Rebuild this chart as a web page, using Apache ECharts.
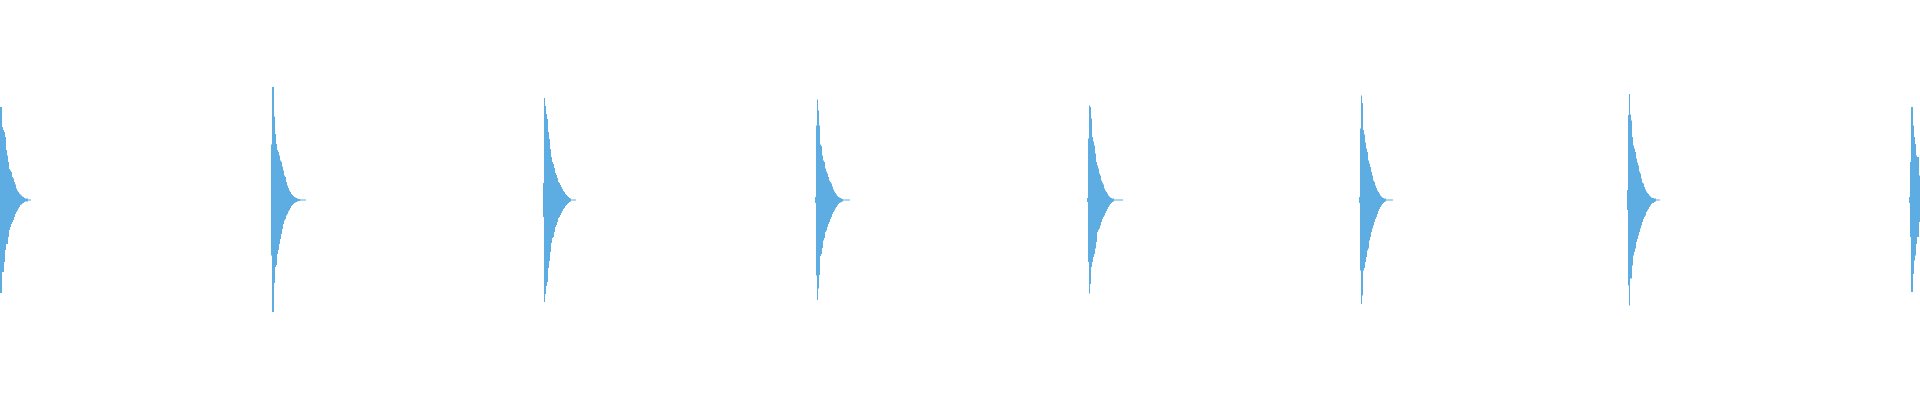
<!DOCTYPE html>
<html>
<head>
<meta charset="utf-8">
<script src="https://cdn.jsdelivr.net/npm/echarts@6/dist/echarts.min.js"></script>
<style>html,body{margin:0;padding:0;background:#fff}#chart{width:1920px;height:400px}</style>
</head>
<body>
<div id="chart"></div>
<script>
// Sample count across the chart (x axis = sample index)
const sampleCount = 1920;

// First sample index of each beat
const beatStarts = [0, 271, 543, 815, 1087, 1359, 1627, 1909];

// Upper envelope (positive amplitude) of each beat, read sample by sample
const beat1Upper = [93, 93, 73, 70, 68, 63, 50, 44.5, 38, 31, 29.5, 28, 23, 21.5, 18, 15.5, 11.5, 9.5, 8, 6.5, 5.5, 4.5, 3.5, 3, 2, 1.5, 1.5, 1.5, 0.5, 0.5, 0.5];
const beat1Lower = [93, 93, 72, 72, 62, 50, 44, 44, 37, 30, 27, 24, 22, 20, 17, 14, 12, 10.5, 8.5, 7, 5, 4.5, 3.5, 3, 2, 1.5, 1.5, 1.5, 0.5, 0.5, 0.5];

const beat2Upper = [55.5, 113, 113, 83.5, 66, 56, 50, 48, 44.5, 39.5, 38, 33.5, 29.5, 24.5, 23, 18, 14.5, 12, 9.5, 8, 6, 5, 4, 3, 2.5, 2, 1.5, 1, 1, 0.5, 0.5, 0.5, 0.5, 0.5, 0.5];
const beat2Lower = [55.5, 112, 112, 83, 67, 65, 54, 50, 44, 39, 34, 29, 24, 20.5, 19, 15.5, 14, 11.5, 10, 8, 6, 5, 4, 3, 2.5, 2, 1.5, 1, 1, 0.5, 0.5, 0.5, 0.5, 0.5, 0.5];

const beat3Upper = [17, 102, 94, 86, 81, 68, 61, 51, 43, 38, 36, 32, 27, 25, 22, 18, 17, 15, 13, 11, 9, 8, 6, 5, 4, 3, 2, 1.5, 0.5, 0.5, 0.5, 0.5, 0.5];
const beat3Lower = [17, 102, 94, 86, 82, 68, 61, 52, 43, 38, 37, 32, 27, 25, 22, 18, 17, 15, 13, 11, 9, 8, 6, 5, 4, 3, 2, 1.5, 0.5, 0.5, 0.5, 0.5, 0.5];

const beat4Upper = [3, 74.5, 100.5, 89.5, 74.5, 55.5, 54, 44.5, 39.5, 38, 31.5, 28.5, 26.5, 23, 19.5, 18, 16.5, 13.5, 10.5, 8.5, 7, 5.5, 4, 3, 2.5, 2, 1.5, 1, 0.5, 0.5, 0.5, 0.5, 0.5, 0.5, 0.5];
const beat4Lower = [3, 75.5, 100, 88.5, 75, 56, 54, 48, 40.5, 38, 32, 30.5, 27, 24, 22, 19, 17, 14, 12, 10.5, 8.5, 7, 5.5, 4, 3, 2.5, 2, 1.5, 0.5, 0.5, 0.5, 0.5, 0.5, 0.5, 0.5];

const beat5Upper = [2, 61.5, 94.5, 93, 81.5, 63, 58.5, 54.5, 46.5, 38, 34.5, 31.5, 26.5, 24.5, 19.5, 17.5, 15.5, 11.5, 9.5, 8, 6.5, 4.5, 3.5, 2.5, 2, 1.5, 1.5, 0.5, 0.5, 0.5, 0.5, 0.5, 0.5, 0.5, 0.5, 0.5];
const beat5Lower = [2, 62, 93.5, 84, 67, 62, 57, 54, 48.5, 42, 32, 30, 28.5, 25.5, 22, 19, 17, 15.5, 13, 11, 9, 7, 5.5, 4, 3, 2, 1.5, 0.5, 0.5, 0.5, 0.5, 0.5, 0.5, 0.5, 0.5, 0.5];

const beat6Upper = [3, 71.5, 104.5, 97, 70, 65.5, 57.5, 51.5, 48, 39.5, 36.5, 33, 28, 24.5, 19.5, 18, 14.5, 12, 9.5, 8, 6.5, 4.5, 3.5, 2.5, 2, 1.5, 1.5, 0.5, 0.5, 0.5, 0.5, 0.5, 0.5, 0.5];
const beat6Lower = [3, 70.5, 104, 95.5, 70.5, 68, 62, 57, 50.5, 48.5, 40.5, 37, 32, 28.5, 25.5, 22, 19, 17, 14, 11, 9, 7, 5.5, 4, 3, 2, 1.5, 0.5, 0.5, 0.5, 0.5, 0.5, 0.5, 0.5];

const beat7Upper = [10, 85, 106, 85.5, 79.5, 63, 54.5, 51.5, 48, 41.5, 37.5, 34.5, 28.5, 26.5, 21.5, 17.5, 16.5, 13, 10.5, 8.5, 7, 6, 4.5, 3.5, 2.5, 2, 2, 1.5, 1.5, 0.5, 0.5, 0.5, 0.5];
const beat7Lower = [10, 85.5, 105.5, 78.5, 78.5, 65.5, 55.5, 52, 48.5, 42, 39, 35.5, 32, 28.5, 25.5, 22, 19, 17, 15.5, 12, 10.5, 9, 7, 5.5, 4, 3, 3, 2, 1.5, 0.5, 0.5, 0.5, 0.5];

const beat8Upper = [3, 38, 93, 93, 74.5, 63, 56, 44.5, 43, 43, 24.5];
const beat8Lower = [3, 37, 92, 92, 74, 60.5, 55.5, 44, 37, 37, 22];

const upperEnvelopes = [beat1Upper, beat2Upper, beat3Upper, beat4Upper, beat5Upper, beat6Upper, beat7Upper, beat8Upper];
const lowerEnvelopes = [beat1Lower, beat2Lower, beat3Lower, beat4Lower, beat5Lower, beat6Lower, beat7Lower, beat8Lower];

// Build the full sample series by placing each beat at its start index
const categories = [];
for (let i = 0; i < sampleCount; i++) categories.push(String(i));
const upperData = new Array(sampleCount).fill(null);
const lowerData = new Array(sampleCount).fill(null);
beatStarts.forEach((start, k) => {
  upperEnvelopes[k].forEach((v, i) => { if (start + i < sampleCount) upperData[start + i] = v; });
  lowerEnvelopes[k].forEach((v, i) => { if (start + i < sampleCount) lowerData[start + i] = -v; });
});

const color = '#5DADE2';
const chart = echarts.init(document.getElementById('chart'), null, { renderer: 'canvas' });
chart.setOption({
  animation: false,
  grid: { left: 0, right: 0, top: 0, bottom: 0 },
  xAxis: {
    type: 'category',
    data: categories,
    show: false,
    boundaryGap: true
  },
  yAxis: {
    type: 'value',
    min: -200,
    max: 200,
    show: false
  },
  series: [
    {
      type: 'bar',
      stack: 'wave',
      data: upperData,
      barCategoryGap: '0%',
      itemStyle: { color: color },
      silent: true
    },
    {
      type: 'bar',
      stack: 'wave',
      data: lowerData,
      barCategoryGap: '0%',
      itemStyle: { color: color },
      silent: true
    }
  ]
});
</script>
</body>
</html>
